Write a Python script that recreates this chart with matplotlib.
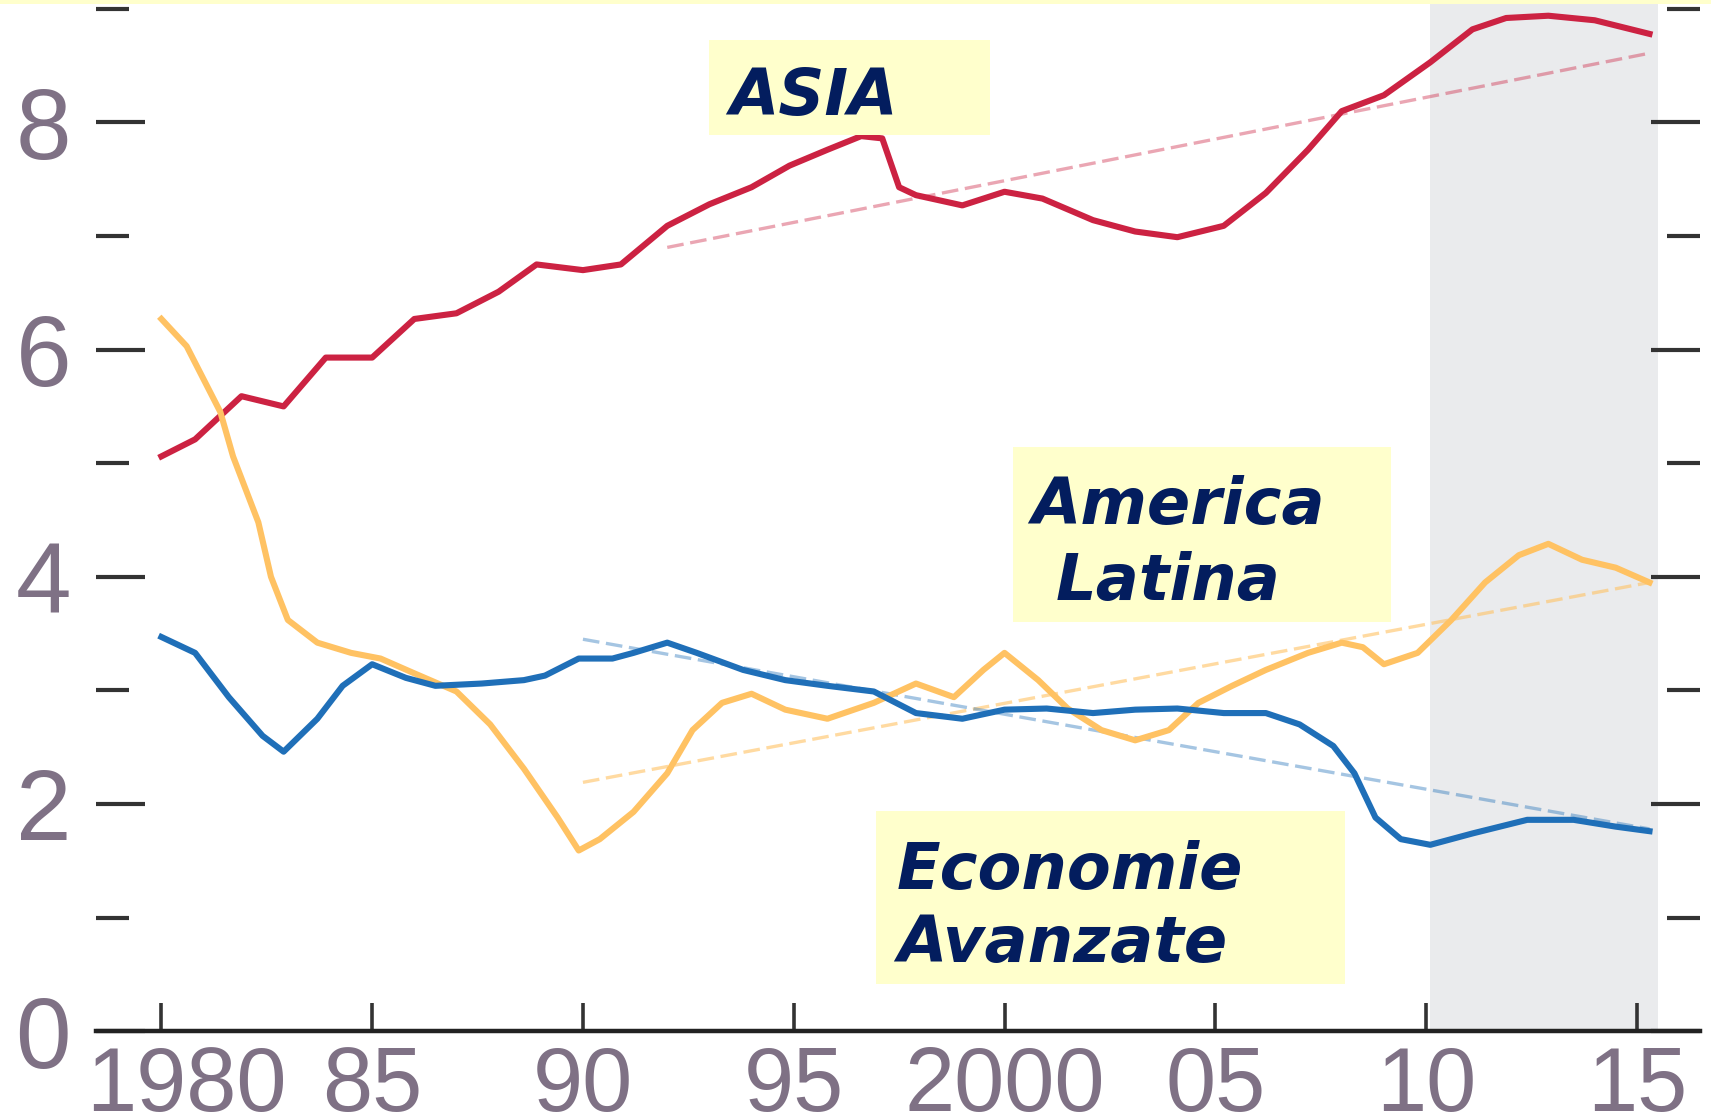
import matplotlib.pyplot as plt
from matplotlib.patches import Rectangle
from matplotlib.transforms import ScaledTranslation

# values (year, % of GDP-ish index)
asia_years = [1980.0, 1980.8, 1981.9, 1982.9, 1983.9, 1985.0, 1986.0, 1987.0, 1988.0, 1988.9,
              1990.0, 1990.9, 1992.0, 1993.0, 1994.0, 1994.9, 1995.8, 1996.6, 1997.1, 1997.5,
              1997.9, 1999.0, 2000.0, 2000.9, 2002.1, 2003.1, 2004.1, 2005.2, 2006.2, 2007.2,
              2008.0, 2009.0, 2010.1, 2011.1, 2011.9, 2012.9, 2014.0, 2015.3]
asia_vals = [5.06, 5.21, 5.59, 5.50, 5.93, 5.93, 6.27, 6.32, 6.51, 6.75,
             6.70, 6.75, 7.09, 7.28, 7.43, 7.62, 7.76, 7.88, 7.86, 7.43,
             7.36, 7.27, 7.39, 7.33, 7.14, 7.04, 6.99, 7.09, 7.38, 7.76,
             8.10, 8.24, 8.53, 8.82, 8.92, 8.94, 8.90, 8.78]

latam_years = [1980.0, 1980.6, 1981.4, 1981.7, 1982.3, 1982.6, 1983.0, 1983.7, 1984.5, 1985.2,
               1986.0, 1987.0, 1987.8, 1988.6, 1989.4, 1989.9, 1990.4, 1991.2, 1992.0, 1992.6,
               1993.3, 1994.0, 1994.8, 1995.8, 1996.9, 1997.9, 1998.8, 1999.5, 2000.0, 2000.8,
               2001.5, 2002.3, 2003.1, 2003.9, 2004.6, 2005.4, 2006.2, 2007.2, 2008.0, 2008.5,
               2009.0, 2009.8, 2010.6, 2011.4, 2012.2, 2012.9, 2013.7, 2014.5, 2015.3]
latam_vals = [6.27, 6.03, 5.45, 5.06, 4.48, 4.00, 3.62, 3.42, 3.33, 3.28,
              3.15, 2.99, 2.70, 2.31, 1.88, 1.59, 1.69, 1.93, 2.27, 2.65,
              2.89, 2.97, 2.83, 2.75, 2.89, 3.06, 2.94, 3.18, 3.33, 3.09,
              2.84, 2.65, 2.56, 2.65, 2.89, 3.04, 3.18, 3.33, 3.42, 3.38,
              3.23, 3.33, 3.62, 3.95, 4.19, 4.29, 4.15, 4.08, 3.95]

adv_years = [1980.0, 1980.8, 1981.6, 1982.4, 1982.9, 1983.7, 1984.3, 1985.0, 1985.8, 1986.5,
             1987.6, 1988.6, 1989.1, 1989.9, 1990.7, 1991.2, 1992.0, 1992.7, 1993.8, 1994.8,
             1995.8, 1996.9, 1997.9, 1999.0, 2000.0, 2001.0, 2002.1, 2003.1, 2004.1, 2005.2,
             2006.2, 2007.0, 2007.8, 2008.3, 2008.8, 2009.4, 2010.1, 2011.1, 2012.4, 2013.5,
             2014.5, 2015.3]
adv_vals = [3.47, 3.33, 2.94, 2.60, 2.46, 2.75, 3.04, 3.23, 3.11, 3.04,
            3.06, 3.09, 3.13, 3.28, 3.28, 3.33, 3.42, 3.33, 3.18, 3.09,
            3.04, 2.99, 2.80, 2.75, 2.83, 2.84, 2.80, 2.83, 2.84, 2.80,
            2.80, 2.70, 2.51, 2.27, 1.88, 1.69, 1.64, 1.74, 1.86, 1.86,
            1.80, 1.76]

# trend lines (start, end)
asia_trend_x = [1992.0, 2015.3]
asia_trend_y = [6.90, 8.61]
latam_trend_x = [1990.0, 2015.3]
latam_trend_y = [2.19, 3.95]
adv_trend_x = [1990.0, 2015.3]
adv_trend_y = [3.45, 1.78]

xtick_pos = [1980, 1985, 1990, 1995, 2000, 2005, 2010, 2015]
xtick_lab = ["1980", "85", "90", "95", "2000", "05", "10", "15"]
ytick_major = [0, 2, 4, 6, 8]
ytick_minor = [1, 3, 5, 7, 9]

red = "#cc2242"
orange = "#ffc263"
blue = "#1f6fb8"
navy = "#031d5e"
boxcol = "#ffffcc"
labcol = "#7f7185"

W, H = 1568.0, 1021.0   # reference units used to place things

fig = plt.figure(figsize=(17.11, 11.14), dpi=100)
ax = fig.add_axes([88 / W, 1 - 945 / H, (1558 - 88) / W, (945 - 4) / H])

ax.axvspan(2010.1, 2015.5, color="#eaebed", lw=0, zorder=0)

ax.plot(asia_trend_x, asia_trend_y, color=red, lw=2.4, alpha=0.4, ls=(0, (5, 2)))
ax.plot(latam_trend_x, latam_trend_y, color=orange, lw=2.4, alpha=0.6, ls=(0, (5, 2)))
ax.plot(adv_trend_x, adv_trend_y, color=blue, lw=2.4, alpha=0.4, ls=(0, (5, 2)))

ax.plot(asia_years, asia_vals, color=red, lw=4.4, solid_joinstyle="round")
ax.plot(latam_years, latam_vals, color=orange, lw=4.4, solid_joinstyle="round")
ax.plot(adv_years, adv_vals, color=blue, lw=4.4, solid_joinstyle="round")

ax.set_xlim(1978.45, 2016.5)
ax.set_ylim(0, 9.04)

for s in ["left", "right", "top"]:
    ax.spines[s].set_visible(False)
ax.spines["bottom"].set_linewidth(3.2)
ax.spines["bottom"].set_color("#222222")

ax.set_xticks(xtick_pos)
ax.set_xticklabels(xtick_lab)
ax.set_yticks(ytick_major)
ax.set_yticks(ytick_minor, minor=True)
ax.set_yticklabels([str(v) for v in ytick_major])

ax.tick_params(axis="x", direction="in", length=20, width=2.6, color="#333333",
               pad=10, labelsize=65, labelcolor=labcol)
ax.tick_params(axis="y", which="major", direction="in", length=35, width=3,
               color="#333333", left=True, right=True, pad=18, labelsize=72,
               labelcolor=labcol)
ax.tick_params(axis="y", which="minor", direction="in", length=24, width=3,
               color="#333333", left=True, right=True)
for t in ax.get_xticklabels() + ax.get_yticklabels():
    t.set_fontfamily("Liberation Sans")

# first year label sits a little to the right of its tick, clear of the "0"
first = ax.get_xticklabels()[0]
first.set_transform(first.get_transform() + ScaledTranslation(0.25, 0, fig.dpi_scale_trans))

# yellow label boxes
boxes = [(650, 37, 907, 124), (928, 410, 1275, 570), (803, 743, 1233, 902)]
for x0, y0, x1, y1 in boxes:
    fig.patches.append(Rectangle((x0 / W, 1 - y1 / H), (x1 - x0) / W, (y1 - y0) / H,
                                 transform=fig.transFigure, facecolor=boxcol,
                                 edgecolor="none", zorder=5))

labels = [("ASIA", 668, 105), ("America", 945, 480), ("Latina", 967, 550),
          ("Economie", 822, 815), ("Avanzate", 822, 882)]
for txt, x, y in labels:
    fig.text(x / W, 1 - y / H, txt, color=navy, fontsize=46, fontweight="bold",
             fontstyle="italic", family="DejaVu Sans", ha="left", va="baseline",
             zorder=6)

# thin yellow band along the top edge
fig.patches.append(Rectangle((0, 1 - 4 / H), 1, 4 / H, transform=fig.transFigure,
                             facecolor=boxcol, edgecolor="none", zorder=5))

fig.savefig("out.png", dpi=100)
